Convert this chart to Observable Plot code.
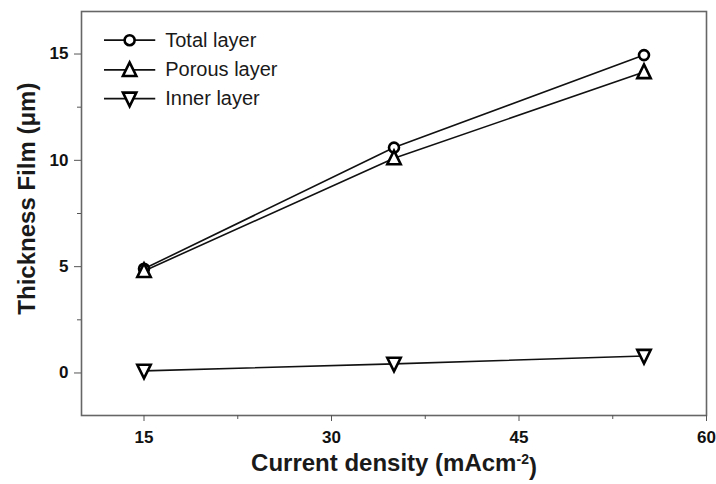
<!DOCTYPE html>
<html><head><meta charset="utf-8">
<script src="https://cdn.jsdelivr.net/npm/d3@7"></script>
<script src="https://cdn.jsdelivr.net/npm/@observablehq/plot@0.6"></script>
<style>
body{margin:0;background:#fff;}
svg{font-family:"Liberation Sans",Arial,sans-serif;}
</style></head>
<body><div id="chart"></div>
<script>
const currentDensity = [15, 35, 55];
const totalLayer = [4.9, 10.6, 14.95];
const porousLayer = [4.8, 10.1, 14.15];
const innerLayer = [0.1, 0.43, 0.8];
const seriesNames = ["Total layer", "Porous layer", "Inner layer"];
const xTicks = [15, 30, 45, 60];
const xMinor = [22.5, 37.5, 52.5];
const yTicks = [0, 5, 10, 15];
const yMinor = [2.5, 7.5, 12.5];
// legend placement (data units)
const legendX = [11.8, 13.85, 15.9, 16.7];
const legendY = [15.65, 14.25, 12.9];

const triDown = {draw(ctx, size){const r=Math.sqrt(size/(3*Math.sqrt(3)/4)); const h=r*Math.sqrt(3)/2; ctx.moveTo(-r/2*1.15, -h*0.6); ctx.lineTo(r/2*1.15, -h*0.6); ctx.lineTo(0, h*0.75); ctx.closePath();}};
const triUp = {draw(ctx, size){const r=Math.sqrt(size/(3*Math.sqrt(3)/4)); const h=r*Math.sqrt(3)/2; ctx.moveTo(-r/2*1.15, h*0.6); ctx.lineTo(r/2*1.15, h*0.6); ctx.lineTo(0, -h*0.75); ctx.closePath();}};
const symbols = [d3.symbolCircle, triUp, triDown];
const seriesVals = [totalLayer, porousLayer, innerLayer];

const data = [];
seriesVals.forEach((vals, i) => vals.forEach((v, j) => data.push({series: seriesNames[i], x: currentDensity[j], y: v, k: i})));
const legend = seriesNames.map((n, i) => ({name: n, k: i, y: legendY[i]}));

const marks = [
  Plot.frame({stroke: "#666", strokeWidth: 1.6}),
  Plot.axisX({ticks: xTicks, tickSize: 6, tickPadding: 9, label: null, stroke: "#555"}),
  Plot.axisX({ticks: xMinor, tickSize: 4, tickFormat: () => "", label: null, stroke: "#555"}),
  Plot.axisY({ticks: yTicks, tickSize: 7, tickPadding: 6, label: null, stroke: "#555"}),
  Plot.axisY({ticks: yMinor, tickSize: 4, tickFormat: () => "", label: null, stroke: "#555"}),
  Plot.line(data, {x: "x", y: "y", z: "series", stroke: "#111", strokeWidth: 1.6}),
];
seriesNames.forEach((n, i) => {
  marks.push(Plot.dot(data.filter(d => d.k === i), {x: "x", y: "y", symbol: () => symbols[i], fill: "white", stroke: "#000", strokeWidth: 2.6, r: i === 0 ? 5 : 7.5}));
});
// legend
marks.push(Plot.link(legend, {x1: legendX[0], x2: legendX[2], y1: "y", y2: "y", stroke: "#111", strokeWidth: 1.8}));
seriesNames.forEach((n, i) => {
  marks.push(Plot.dot(legend.filter(d => d.k === i), {x: legendX[1], y: "y", symbol: () => symbols[i], fill: "white", stroke: "#000", strokeWidth: 2.6, r: i === 0 ? 5 : 7.5}));
});
marks.push(Plot.text(legend, {x: legendX[3], y: "y", text: "name", textAnchor: "start", fontSize: 20, fill: "#1a1a1a"}));
// axis labels
marks.push(Plot.text(["Current density (mAcm-2)"], {x: 35, frameAnchor: "bottom", dy: 55, text: d => d, fontSize: 24, fontWeight: "bold", fill: "#1a1a1a"}));
marks.push(Plot.text(["Thickness Film (μm)"], {y: 8.2, frameAnchor: "left", textAnchor: "middle", dx: -54, rotate: -90, text: d => d, fontSize: 24, fontWeight: "bold", fill: "#1a1a1a"}));

const chart = Plot.plot({
  width: 716, height: 484,
  marginLeft: 81, marginRight: 10, marginTop: 11, marginBottom: 69,
  x: {domain: [10, 60]},
  y: {domain: [-2, 17]},
  style: {fontFamily: "Liberation Sans, Arial, sans-serif", color: "#222", background: "white"},
  marks
});
// bold, larger tick labels
d3.select(chart).selectAll("text").filter(function(){ return /^\d+$/.test(this.textContent.trim()); })
  .style("font-size", "17px").style("font-weight", "bold").style("fill", "#111");
// superscript for the unit
d3.select(chart).selectAll("text").filter(function(){ return this.textContent === "Current density (mAcm-2)"; })
  .each(function(){
    const t = d3.select(this);
    t.text("");
    t.append("tspan").text("Current density (mAcm");
    t.append("tspan").attr("dy", "-0.45em").attr("font-size", "14px").text("-2");
    t.append("tspan").attr("dy", "0.45em").text(")");
  });
document.getElementById("chart").appendChild(chart);
</script></body></html>
